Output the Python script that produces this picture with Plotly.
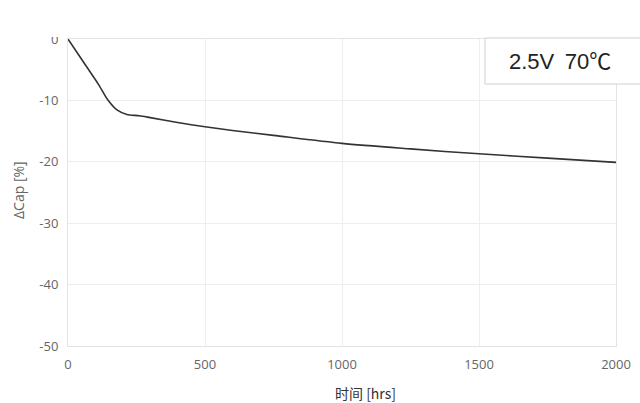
import plotly.graph_objects as go

hours = [0, 60, 110, 145, 180, 215, 260, 300, 400, 500, 600, 750, 1000, 1250, 1500, 1750, 2000]
delta_cap = [0, -4.0, -7.3, -9.9, -11.6, -12.3, -12.5, -12.8, -13.6, -14.3, -14.9, -15.7, -17.0, -17.9, -18.7, -19.4, -20.1]
x_ticks = [0, 500, 1000, 1500, 2000]
y_ticks = [0, -10, -20, -30, -40, -50]
condition_label = "2.5V\u2009 70℃"

fig = go.Figure()
fig.add_trace(go.Scatter(
    x=hours, y=delta_cap, mode="lines",
    line=dict(color="#333333", width=1.6, shape="spline", smoothing=0.8),
    showlegend=False, hoverinfo="skip",
))

W, H = 640, 403
L, R, T, B = 68, 24, 39, 57
pw = W - L - R
ph = H - T - B

def px_x(p):
    return (p - L) / pw

def px_y(p):
    return (H - B - p) / ph

tick_font = dict(family="Open Sans, Noto Sans, sans-serif", size=13, color="#666666")

fig.update_layout(
    width=W, height=H,
    margin=dict(l=L, r=R, t=T, b=B, autoexpand=False),
    paper_bgcolor="white", plot_bgcolor="white",
    font=dict(family="Open Sans, Noto Sans CJK SC, sans-serif"),
    xaxis=dict(
        range=[0, 2000], tickvals=x_ticks, ticktext=[str(v) for v in x_ticks],
        showgrid=True, gridcolor="#eeeeee", gridwidth=1, automargin=False,
        showline=True, linecolor="#e3e3e3", mirror=True, zeroline=False,
        ticks="", tickfont=tick_font, ticklabelstandoff=6,
    ),
    yaxis=dict(
        range=[-50, 0], tickvals=y_ticks, ticktext=[str(v) for v in y_ticks],
        showgrid=True, gridcolor="#eeeeee", gridwidth=1, automargin=False,
        showline=True, linecolor="#e3e3e3", mirror=True, zeroline=False,
        ticks="", tickfont=tick_font, ticklabelstandoff=6,
    ),
    shapes=[
        dict(type="rect", xref="paper", yref="paper",
             x0=-0.13, x1=-0.005, y0=px_y(37), y1=px_y(0),
             fillcolor="white", line=dict(width=0), layer="above"),
        dict(type="rect", xref="paper", yref="paper",
             x0=px_x(485), x1=px_x(660), y0=px_y(84), y1=px_y(38),
             fillcolor="white", line=dict(color="#d0d0d0", width=1), layer="above"),
    ],
    annotations=[
        dict(text=condition_label, xref="paper", yref="paper",
             x=px_x(560), y=px_y(61), xanchor="center", yanchor="middle",
             showarrow=False, font=dict(family="Liberation Sans, Noto Sans CJK SC, sans-serif", size=22, color="#222222")),
        dict(text="时间 [hrs]", xref="paper", yref="paper",
             x=px_x(365), y=px_y(393), xanchor="center", yanchor="middle",
             showarrow=False, font=dict(family="Noto Sans CJK SC, sans-serif", size=14, color="#333333")),
        dict(text="ΔCap [%]", xref="paper", yref="paper",
             x=px_x(18), y=px_y(190), xanchor="center", yanchor="middle", textangle=-90,
             showarrow=False, font=dict(family="Open Sans, Noto Sans, sans-serif", size=14, color="#666666")),
    ],
)

fig.write_html(
    "out.html",
    config={"displayModeBar": False, "staticPlot": True},
    post_script="document.body.style.margin='0';document.body.style.overflow='hidden';",
)
